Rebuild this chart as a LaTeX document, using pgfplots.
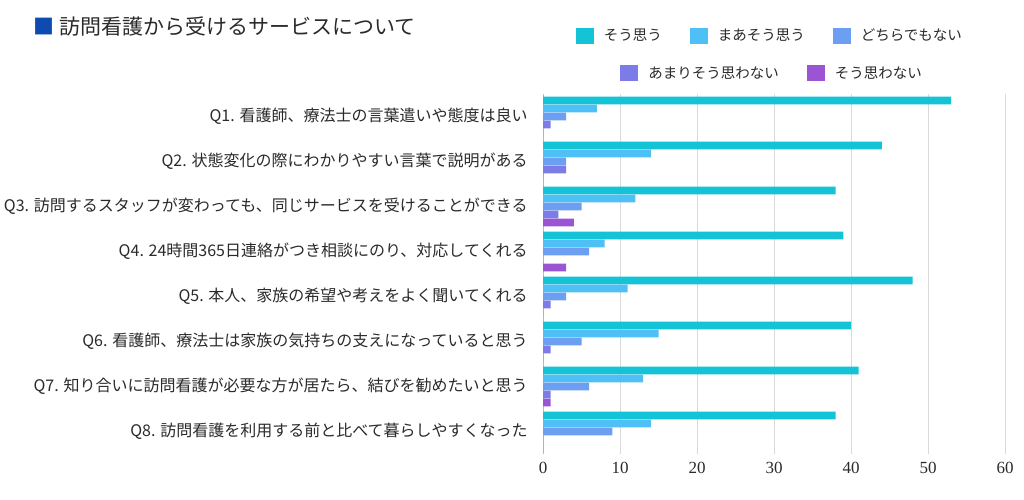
\documentclass[border=0pt]{standalone}
\usepackage{fontspec}
\setmainfont{Liberation Serif}
\newfontfamily\cjk{Noto Sans CJK JP}
\usepackage{pgfplots}
\pgfplotsset{compat=1.18}
\definecolor{c1}{HTML}{14C4D6}
\definecolor{c2}{HTML}{4EC0F5}
\definecolor{c3}{HTML}{6C9EF2}
\definecolor{c4}{HTML}{7C7CE8}
\definecolor{c5}{HTML}{9B55D3}
\definecolor{tblue}{HTML}{0D4BB0}
\definecolor{txt}{HTML}{2A2A2A}
\newcommand\lab{\cjk\fontsize{16}{19}\selectfont}
\newcommand\lf{\cjk\fontsize{14.5}{17}\selectfont}
\begin{document}
\begin{tikzpicture}
\useasboundingbox (0,0) rectangle (1024pt,-499pt);
\node[anchor=west, inner sep=0pt, text=txt] at (33pt,-26pt)
  {\cjk\fontsize{21}{24}\selectfont\textcolor{tblue}{■}\hspace{5pt}訪問看護から受けるサービスについて};
\begin{axis}[
  at={(543pt,-454pt)}, anchor=south west, scale only axis,
  width=462pt, height=360pt,
  xbar, bar width=0.172,
  xmin=0, xmax=60, ymin=-0.5, ymax=7.5,
  xtick={0,10,...,60}, ytick={0,...,7},
  yticklabels={Q8. 訪問看護を利用する前と比べて暮らしやすくなった,
    Q7. 知り合いに訪問看護が必要な方が居たら、結びを勧めたいと思う,
    Q6. 看護師、療法士は家族の気持ちの支えになっていると思う,
    Q5. 本人、家族の希望や考えをよく聞いてくれる,
    Q4. 24時間365日連絡がつき相談にのり、対応してくれる,
    Q3. 訪問するスタッフが変わっても、同じサービスを受けることができる,
    Q2. 状態変化の際にわかりやすい言葉で説明がある,
    Q1. 看護師、療法士の言葉遣いや態度は良い},
  yticklabel style={font=\lab, text=txt, inner sep=0pt, xshift=-11pt},
  xticklabel style={font=\fontsize{17}{19}\selectfont, text=txt, inner sep=0pt, yshift=-8pt},
  /pgf/number format/assume math mode=true,
  tick style={draw=none},
  axis x line*=bottom, axis y line*=left,
  x axis line style={draw=none},
  y axis line style={draw=gray!55, line width=0.8pt},
  xmajorgrids, major grid style={draw=gray!30, line width=0.8pt},
  legend image code/.code={\fill[#1] (0pt,-8pt) rectangle (18pt,8pt);},
  legend style={draw=none, fill=none, font=\lf, text=txt,
    at={(axis description cs:0.489,1.162)}, anchor=center,
    nodes={inner sep=0pt}, column sep=10pt,
    /tikz/every even column/.append style={column sep=28pt}},
  legend columns=3,
]
\addplot[fill=c1, draw=none, bar shift=0.3556] coordinates {(53,7)(44,6)(38,5)(39,4)(48,3)(40,2)(41,1)(38,0)};
\addlegendentry{そう思う}
\addplot[fill=c2, draw=none, bar shift=0.1778] coordinates {(7,7)(14,6)(12,5)(8,4)(11,3)(15,2)(13,1)(14,0)};
\addlegendentry{まあそう思う}
\addplot[fill=c3, draw=none, bar shift=0] coordinates {(3,7)(3,6)(5,5)(6,4)(3,3)(5,2)(6,1)(9,0)};
\addlegendentry{どちらでもない}
\addplot[fill=c4, draw=none, bar shift=-0.1778, forget plot] coordinates {(1,7)(3,6)(2,5)(0,4)(1,3)(1,2)(1,1)(0,0)};
\addplot[fill=c5, draw=none, bar shift=-0.3556, forget plot] coordinates {(0,7)(0,6)(4,5)(3,4)(0,3)(0,2)(1,1)(0,0)};
\end{axis}
\begin{axis}[
  at={(543pt,-454pt)}, anchor=south west, scale only axis,
  width=462pt, height=360pt, hide axis,
  xmin=0, xmax=1, ymin=0, ymax=1,
  legend image code/.code={\fill[#1] (0pt,-8pt) rectangle (18pt,8pt);},
  legend style={draw=none, fill=none, font=\lf, text=txt,
    at={(axis description cs:0.494,1.058)}, anchor=center,
    nodes={inner sep=0pt}, column sep=10pt,
    /tikz/every even column/.append style={column sep=28pt}},
  legend columns=2,
]
\addlegendimage{fill=c4, draw=none}
\addlegendentry{あまりそう思わない}
\addlegendimage{fill=c5, draw=none}
\addlegendentry{そう思わない}
\end{axis}
\end{tikzpicture}
\end{document}
